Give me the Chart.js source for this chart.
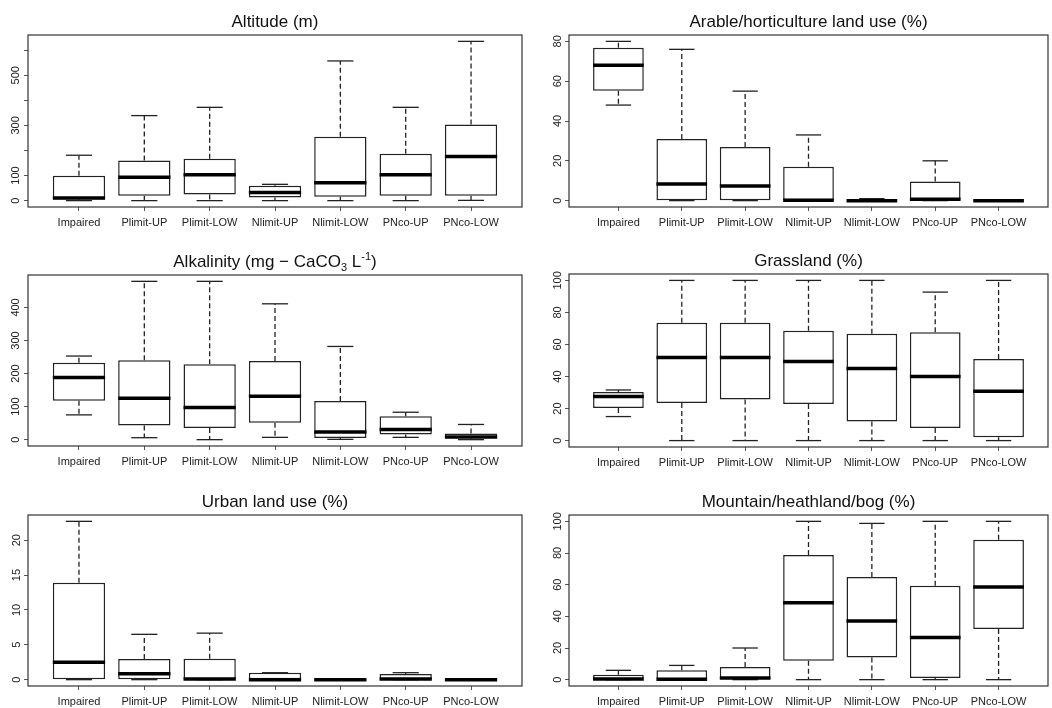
<!DOCTYPE html>
<html>
<head>
<meta charset="utf-8">
<script src="https://cdn.jsdelivr.net/npm/chart.js@4"></script>
<style>
  body { margin: 0; background: #fff; font-family: "Liberation Sans", Arial, sans-serif; }
  #wrap { position: relative; width: 1052px; height: 708px; overflow: hidden; }
  .panel { position: absolute; width: 526px; height: 236px; }
  .panel canvas { position: absolute; left: 0; top: 0; }
  .title { position: absolute; font-size: 17px; line-height: 17px; color: #111; text-align: center; white-space: nowrap; }
  .title sub, .title sup { font-size: 11px; line-height: 0; }
</style>
</head>
<body>
<div id="wrap"></div>
<script>
// groups on the x axis
const categories = ['Impaired', 'Plimit-UP', 'Plimit-LOW', 'Nlimit-UP', 'Nlimit-LOW', 'PNco-UP', 'PNco-LOW'];

// five-number summaries per group: [min, Q1, median, Q3, max]
const altitude = [
  [0, 5, 10, 99, 181], [0, 19, 93, 160, 339], [0, 24, 103, 167, 372], [0, 12, 32, 59, 65],
  [0, 15, 71, 255, 557], [0, 19, 103, 187, 372], [1, 19, 176, 304, 635]
];
const arable = [
  [48, 55.2, 68, 76.8, 80], [0, 0, 8.4, 31, 76], [0, 0, 7.4, 27, 55], [0, 0, 0.2, 17, 33],
  [0, 0, 0, 0.6, 1], [0, 0, 0.7, 9.6, 20], [0, 0, 0, 0.3, 0.3]
];
const alkalinity = [
  [75, 118, 188, 233, 253], [6, 43, 125, 240, 479], [0, 35, 97, 228, 479], [7, 51, 131, 238, 411],
  [1, 5, 23, 117, 282], [7, 16, 31, 71, 83], [0, 4, 8, 19, 46]
];
const grassland = [
  [15, 20.3, 27.6, 30.3, 31.6], [0, 23.4, 51.9, 73.6, 100], [0, 25.7, 51.9, 73.6, 100], [0, 22.8, 49.4, 68.6, 100],
  [0, 11.9, 45, 66.7, 100], [0, 7.9, 40, 67.6, 92.7], [0, 2.1, 30.8, 51, 100]
];
const urban = [
  [0, 0, 2.5, 13.9, 22.7], [0, 0, 0.86, 2.95, 6.5], [0, 0, 0.1, 3, 6.67], [0, 0, 0, 1, 1],
  [0, 0, 0, 0.05, 0.05], [0, 0, 0.1, 0.8, 1], [0, 0, 0, 0.05, 0.05]
];
const mountain = [
  [0, 0, 0.4, 3.1, 5.9], [0, 0, 0.2, 5.9, 9], [0, 0, 1, 8, 20], [0, 12, 48.6, 78.8, 100],
  [0, 14, 37.1, 64.8, 98.7], [0, 1, 26.6, 59.3, 100], [0, 32, 58.5, 88.3, 100]
];

// y tick marks and which of them carry a label
const altitudeTicks = [0, 100, 200, 300, 400, 500, 600];
const altitudeLabels = [0, 100, 300, 500];
const arableTicks = [0, 20, 40, 60, 80];
const alkalinityTicks = [0, 100, 200, 300, 400];
const percentTicks = [0, 20, 40, 60, 80, 100];
const urbanTicks = [0, 5, 10, 15, 20];

const W = 526, H = 236;
const ink = '#222';

// panel placement + plot box inside each 526x236 cell
const panels = [
  { title: 'Altitude (m)', stats: altitude, ticks: altitudeTicks, labels: altitudeLabels,
    col: 0, row: 0, left: 28, right: 522, top: 35, bottom: 207, tpad: -1 },
  { title: 'Arable/horticulture land use (%)', stats: arable, ticks: arableTicks, labels: arableTicks,
    col: 1, row: 0, left: 43, right: 522, top: 35, bottom: 207, tpad: 1 },
  { title: 'Alkalinity (mg \u2212 CaCO<sub>3</sub> L<sup>-1</sup>)', stats: alkalinity, ticks: alkalinityTicks, labels: alkalinityTicks,
    col: 0, row: 1, left: 28, right: 522, top: 39, bottom: 210, tpad: -1 },
  { title: 'Grassland (%)', stats: grassland, ticks: percentTicks, labels: percentTicks,
    col: 1, row: 1, left: 43, right: 522, top: 38, bottom: 211, tpad: -2 },
  { title: 'Urban land use (%)', stats: urban, ticks: urbanTicks, labels: urbanTicks,
    col: 0, row: 2, left: 28, right: 522, top: 43, bottom: 214, tpad: 1 },
  { title: 'Mountain/heathland/bog (%)', stats: mountain, ticks: percentTicks, labels: percentTicks,
    col: 1, row: 2, left: 43, right: 522, top: 43, bottom: 214, tpad: -2 }
];

Chart.defaults.font.family = '"Liberation Sans", Arial, sans-serif';
Chart.defaults.color = ink;

// whiskers, caps, medians and the plot frame, all placed via the chart scales
const boxWhiskers = {
  id: 'boxWhiskers',
  afterDatasetsDraw(chart, args, opts) {
    const ctx = chart.ctx, xs = chart.scales.x, ys = chart.scales.y;
    const seg = (x1, y1, x2, y2) => { ctx.beginPath(); ctx.moveTo(x1, y1); ctx.lineTo(x2, y2); ctx.stroke(); };
    ctx.save();
    opts.stats.forEach((s, i) => {
      const [mn, q1, md, q3, mx] = s;
      const x = xs.getPixelForValue(i + 1);
      const half = xs.getPixelForValue(i + 1.4) - x;
      const cap = half / 2;
      ctx.strokeStyle = ink;
      ctx.lineWidth = 1.3;
      ctx.setLineDash([5, 3]);
      if (mx > q3) seg(x, ys.getPixelForValue(q3), x, ys.getPixelForValue(mx));
      if (mn < q1) seg(x, ys.getPixelForValue(q1), x, ys.getPixelForValue(mn));
      ctx.setLineDash([]);
      seg(x - cap, ys.getPixelForValue(mx), x + cap, ys.getPixelForValue(mx));
      seg(x - cap, ys.getPixelForValue(mn), x + cap, ys.getPixelForValue(mn));
      ctx.strokeStyle = '#000';
      ctx.lineWidth = 3.5;
      seg(x - half, ys.getPixelForValue(md), x + half, ys.getPixelForValue(md));
    });
    const a = chart.chartArea;
    ctx.strokeStyle = '#333';
    ctx.lineWidth = 1.2;
    ctx.strokeRect(a.left, a.top, a.right - a.left, a.bottom - a.top);
    ctx.restore();
  }
};

const wrap = document.getElementById('wrap');

panels.forEach(p => {
  const div = document.createElement('div');
  div.className = 'panel';
  div.style.left = (p.col * W) + 'px';
  div.style.top = (p.row * H) + 'px';
  const cv = document.createElement('canvas');
  cv.width = W; cv.height = H;
  div.appendChild(cv);
  const t = document.createElement('div');
  t.className = 'title';
  t.innerHTML = p.title;
  t.style.left = p.left + 'px';
  t.style.width = (p.right - p.left) + 'px';
  t.style.top = (p.top - 22) + 'px';
  div.appendChild(t);
  wrap.appendChild(div);

  // R-style axis limits: data range widened by 4% each side
  const all = p.stats.flat();
  const lo = Math.min(...all), hi = Math.max(...all);
  const ext = (hi - lo) * 0.04;
  const xExt = categories.length * 0.04;

  new Chart(cv, {
    type: 'bar',
    data: {
      datasets: [{
        data: p.stats.map((s, i) => ({ x: i + 1, y: [s[1], s[3]] })),
        backgroundColor: '#fff',
        borderColor: ink,
        borderWidth: 1.5,
        borderSkipped: false,
        barPercentage: 0.8,
        categoryPercentage: 1
      }]
    },
    plugins: [boxWhiskers],
    options: {
      responsive: false,
      animation: false,
      devicePixelRatio: 1,
      layout: { padding: { top: p.top, right: W - p.right, left: 0, bottom: 0 } },
      plugins: {
        legend: { display: false },
        tooltip: { enabled: false },
        boxWhiskers: { stats: p.stats }
      },
      scales: {
        x: {
          type: 'linear',
          offset: false,
          min: 0.5 - xExt,
          max: categories.length + 0.5 + xExt,
          afterBuildTicks: s => { s.ticks = categories.map((c, i) => ({ value: i + 1 })); },
          afterFit: s => { s.height = H - p.bottom; },
          ticks: {
            autoSkip: false, maxRotation: 0, padding: 5,
            font: { size: 11 }, color: ink,
            callback: v => categories[v - 1]
          },
          grid: { offset: false, drawOnChartArea: false, tickLength: 4, tickColor: '#555' },
          border: { display: false }
        },
        y: {
          type: 'linear',
          min: lo - ext,
          max: hi + ext,
          afterBuildTicks: s => { s.ticks = p.ticks.map(v => ({ value: v })); },
          afterFit: s => { s.width = p.left; },
          ticks: {
            minRotation: 90, maxRotation: 90, crossAlign: 'center', padding: p.tpad,
            font: { size: 11 }, color: ink,
            callback: v => (p.labels.includes(v) ? String(v) : '')
          },
          grid: { drawOnChartArea: false, tickLength: 4, tickColor: '#555' },
          border: { display: false }
        }
      }
    }
  });
});
</script>
</body>
</html>
